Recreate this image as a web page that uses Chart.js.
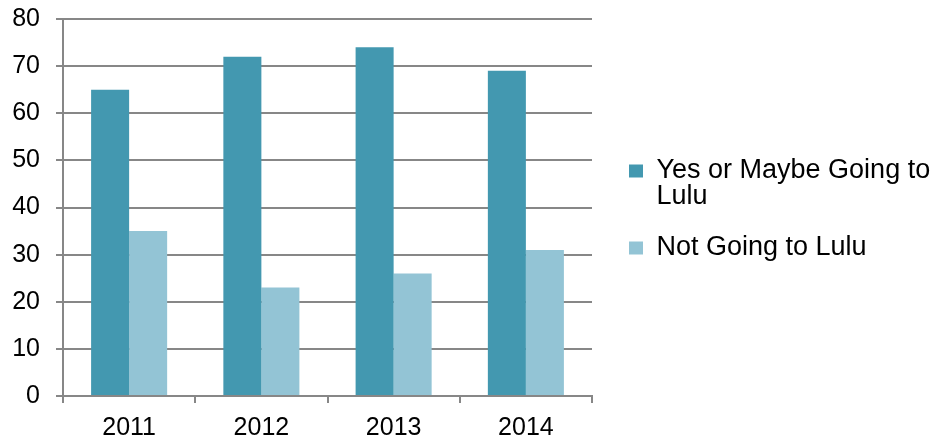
<!DOCTYPE html>
<html><head><meta charset="utf-8">
<script src="https://cdn.jsdelivr.net/npm/chart.js@4/dist/chart.umd.min.js"></script>
<style>html,body{margin:0;padding:0;background:#fff}#wrap{width:930px;height:441px}</style>
</head><body><div id="wrap"><canvas id="c" width="930" height="441"></canvas></div>
<script>
const categories = ['2011', '2012', '2013', '2014'];
const yesMaybe = [65, 72, 74, 69];
const notGoing = [35, 23, 26, 31];
const seriesNames = [['Yes or Maybe Going to', 'Lulu'], ['Not Going to Lulu']];
const yTicks = [0, 10, 20, 30, 40, 50, 60, 70, 80];

const FAMILY = '"Liberation Sans", Arial, sans-serif';
const AXIS_FONT = {family: FAMILY, size: 25, lineHeight: 1.2};
const LEGEND_FONT = {family: FAMILY, size: 27, lineHeight: '26px'};
const GRID = '#878787';

// Legend sizing: reserve space to the right of the plot, then place the legend block.
const legendSizer = {
  id: 'legendSizer',
  beforeLayout(chart) {
    const lg = chart.legend;
    if (lg && !lg._sized) {
      const f = lg.fit;
      lg.fit = function () { f.call(this); this.width = 338; };
      lg._sized = true;
    }
  },
  afterLayout(chart) {
    const lg = chart.legend;
    if (lg) { lg.left = 604; lg.top -= 21; lg.bottom -= 21; }
  }
};

new Chart(document.getElementById('c'), {
  type: 'bar',
  data: {
    labels: categories,
    datasets: [
      {label: seriesNames[0], data: yesMaybe, backgroundColor: '#4398B0', borderWidth: 0},
      {label: seriesNames[1], data: notGoing, backgroundColor: '#93C4D5', borderWidth: 0}
    ]
  },
  plugins: [legendSizer],
  options: {
    responsive: false,
    animation: false,
    devicePixelRatio: 1,
    layout: {padding: {top: 19, right: 0, left: 0, bottom: 0}},
    datasets: {bar: {categoryPercentage: 0.575, barPercentage: 1}},
    plugins: {
      tooltip: {enabled: false},
      legend: {
        position: 'right',
        labels: {
          font: LEGEND_FONT, color: '#000', boxWidth: 14, boxHeight: 13, padding: 25
        }
      }
    },
    scales: {
      x: {
        afterFit: s => { s.height = 45; s.paddingLeft = 0; s.paddingRight = 0; },
        grid: {drawOnChartArea: false, color: GRID, lineWidth: 2, tickLength: 7, offset: true},
        border: {color: GRID, width: 2},
        ticks: {font: AXIS_FONT, color: '#000', padding: 10}
      },
      y: {
        min: 0, max: 80,
        afterFit: s => { s.width = 63; s.paddingTop = 0; s.paddingBottom = 0; },
        afterBuildTicks: s => { s.ticks = yTicks.map(v => ({value: v})); },
        grid: {color: GRID, lineWidth: 2, tickLength: 7},
        border: {color: GRID, width: 2},
        ticks: {font: AXIS_FONT, color: '#000', padding: 16}
      }
    }
  }
});
</script></body></html>
